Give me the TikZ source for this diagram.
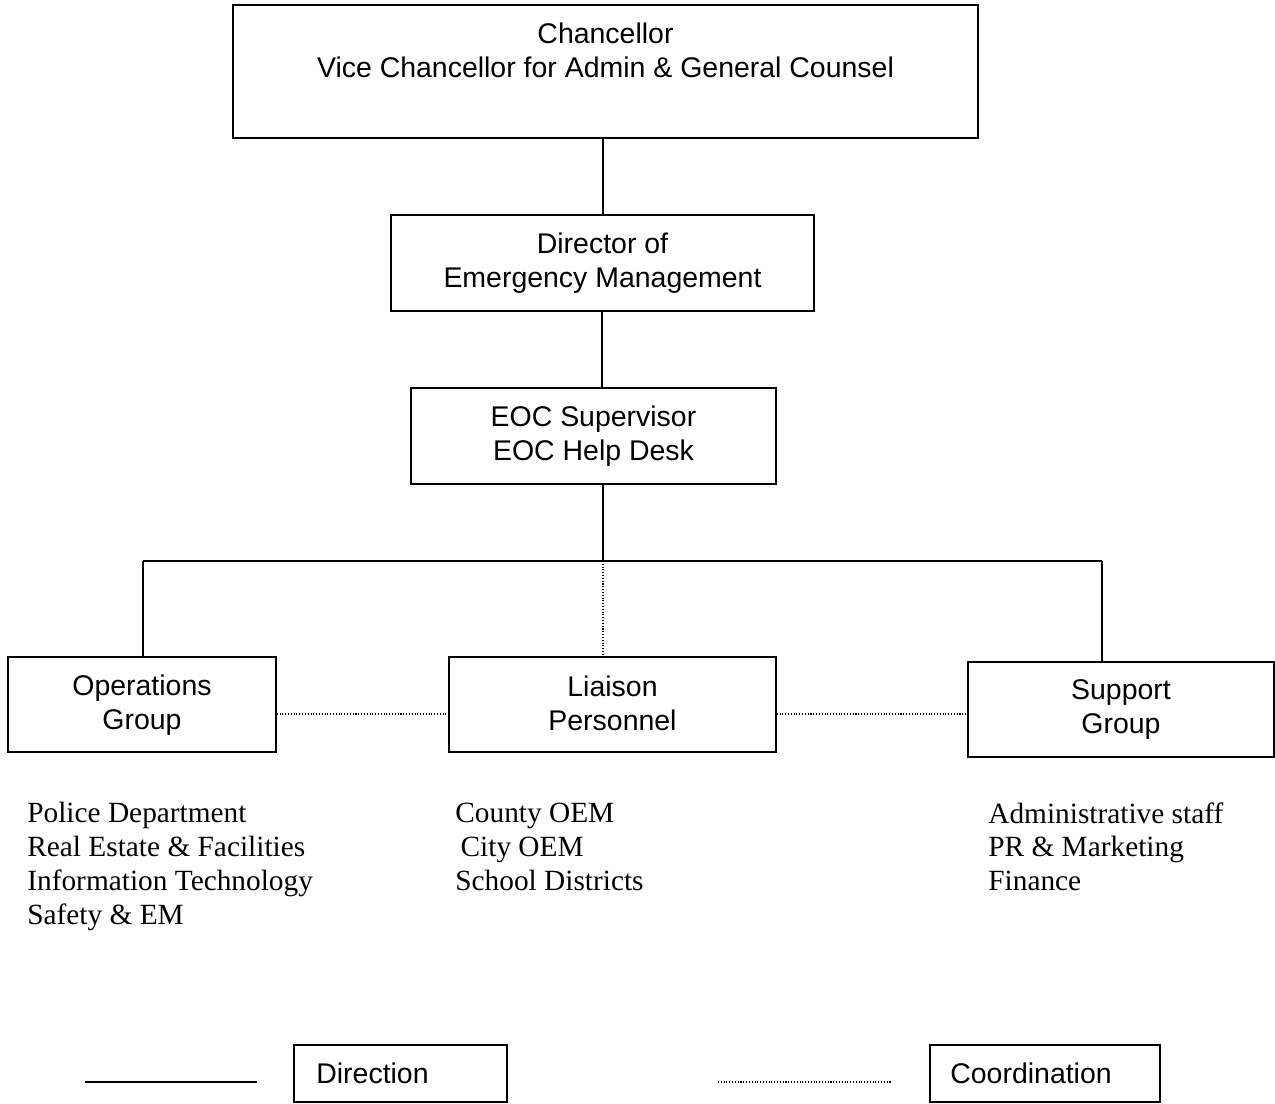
\documentclass[tikz,border=0pt]{standalone}
\usepackage{fontspec}
\setmainfont{Liberation Serif}
\newfontfamily\boxfont{Liberation Sans}
\begin{document}
\begin{tikzpicture}[x=0.02cm,y=-0.02cm,
  orgbox/.style={draw,line width=0.9pt,inner sep=0pt},
  boxtext/.style={font=\boxfont\fontsize{16.2}{19.4}\selectfont,align=center,inner sep=0pt},
  listtext/.style={font=\fontsize{16.7}{19.3}\selectfont,align=left,anchor=north west,inner sep=0pt},
  direction/.style={line width=1pt},
  coordination/.style={line width=0.6pt,densely dotted}]
\useasboundingbox (0,0) rectangle (1275,1104);
% boxes
\node[orgbox,minimum width=14.9cm,minimum height=2.66cm] (chan) at (605.5,71.5) {};
\node[boxtext] at (605.5,50) {Chancellor\\Vice Chancellor for Admin \& General Counsel};
\node[orgbox,minimum width=8.46cm,minimum height=1.92cm] (dir) at (602.5,263) {};
\node[boxtext] at (602.5,263) {Director of\\Emergency Management};
\node[orgbox,minimum width=7.3cm,minimum height=1.92cm] (eoc) at (593.5,436) {};
\node[boxtext] at (593.5,436) {EOC Supervisor\\EOC Help Desk};
\node[orgbox,minimum width=5.36cm,minimum height=1.9cm] (ops) at (142,704.5) {};
\node[boxtext] at (142,705.5) {Operations\\Group};
\node[orgbox,minimum width=6.54cm,minimum height=1.9cm] (lia) at (612.5,704.5) {};
\node[boxtext] at (612.5,703) {Liaison\\Personnel};
\node[orgbox,minimum width=6.12cm,minimum height=1.9cm] (sup) at (1121,709.5) {};
\node[boxtext] at (1121,709.5) {Support\\Group};
% bus
\coordinate (busL) at (143,561);
\coordinate (busM) at (603,561);
\coordinate (busR) at (1102,561);
\draw[direction] (chan.south -| 603,0) -- (dir.north -| 603,0);
\draw[direction] (eoc.south -| busM) -- (busM);
\draw[direction] (busL) -- (busR);
\draw[direction] (busL) -- (busL |- ops.north);
\draw[direction] (busR) -- (busR |- sup.north);
\draw[coordination] (busM) -- (busM |- lia.north);
\draw[coordination] (ops.east |- 0,714) -- (lia.west |- 0,714);
\draw[coordination] (lia.east |- 0,714) -- (sup.west |- 0,714);
\draw[direction] (dir.south -| 602,0) -- (eoc.north -| 602,0);
% lists
\node[listtext] (opslist) at (27,802) {Police Department\\Real Estate \& Facilities\\Information Technology\\Safety \& EM};
\node[listtext] (lialist) at (455,803) {County OEM\\\hspace{3pt}City OEM\\School Districts};
\node[listtext] (suplist) at (988,802) {Administrative staff\\PR \& Marketing\\Finance};
% legend
\coordinate (l1a) at (85,1082);
\coordinate (l1b) at (257,1082);
\draw[direction] (l1a) -- (l1b);
\node[orgbox,minimum width=4.26cm,minimum height=1.14cm] (dirleg) at (400.5,1073.5) {};
\node[boxtext,anchor=west] at (316,1073.5) {Direction};
\coordinate (l2a) at (718,1082);
\coordinate (l2b) at (891,1082);
\draw[coordination] (l2a) -- (l2b);
\node[orgbox,minimum width=4.6cm,minimum height=1.14cm] (coleg) at (1045,1073.5) {};
\node[boxtext,anchor=west] at (950,1073.5) {Coordination};
\end{tikzpicture}
\end{document}
